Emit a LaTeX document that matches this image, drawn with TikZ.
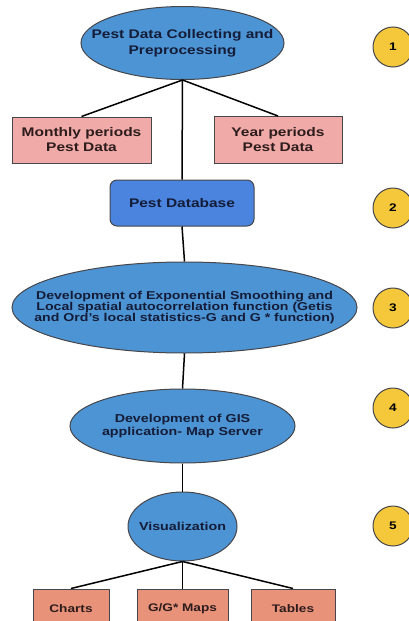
\documentclass[tikz,border=0pt]{standalone}
\usepackage{fontspec}
\setmainfont{Liberation Sans}[FakeStretch=1.24]
\usetikzlibrary{shapes.geometric}
\definecolor{ellblue}{RGB}{77,148,212}
\definecolor{dbblue}{RGB}{74,132,222}
\definecolor{boxpink}{RGB}{240,170,168}
\definecolor{boxsalmon}{RGB}{232,146,122}
\definecolor{stepgold}{RGB}{245,200,60}
\definecolor{edgegray}{RGB}{70,70,75}
\definecolor{inknavy}{RGB}{20,28,55}
\definecolor{inkbrown}{RGB}{45,28,28}
\begin{document}
\begin{tikzpicture}[x=1pt,y=-1pt,
  ell/.style={ellipse,draw=edgegray,line width=1pt,fill=ellblue,inner sep=0pt},
  elltext/.style={align=center,font=\bfseries,text=inknavy,inner sep=0pt},
  pinkbox/.style={rectangle,draw=edgegray,line width=1pt,fill=boxpink,inner sep=0pt,
    align=center,font=\fontsize{12.5}{15}\selectfont\bfseries,text=inkbrown},
  outbox/.style={rectangle,draw=edgegray,line width=1pt,fill=boxsalmon,inner sep=0pt,
    minimum height=40pt,font=\fontsize{11}{13}\selectfont\bfseries,text=inkbrown},
  stepmark/.style={circle,draw=edgegray,line width=1pt,fill=stepgold,minimum size=40pt,
    inner sep=0pt,font=\fontsize{11}{13}\selectfont\bfseries,text=black},
  link/.style={line width=1.5pt,black}]
\useasboundingbox (0,0) rectangle (409,621);
\clip (0,0) rectangle (409,621);
% stage 1
\node[ell,minimum width=203pt,minimum height=73pt] (collect) at (182.5,43) {};
\node[elltext,font=\fontsize{12.5}{16}\selectfont\bfseries] (collecttext) at (collect)
  {Pest Data Collecting and\\Preprocessing};
\node[pinkbox,minimum width=139pt,minimum height=46pt] (monthly) at (81.5,140) {Monthly periods\\Pest Data};
\node[pinkbox,minimum width=128pt,minimum height=47pt] (year) at (278,140) {Year periods\\Pest Data};
% stage 2
\node[rectangle,rounded corners=7pt,draw=edgegray,line width=1pt,fill=dbblue,
  minimum width=144pt,minimum height=46pt,font=\fontsize{12.5}{15}\selectfont\bfseries,
  text=inknavy] (db) at (182,203) {Pest Database};
% stage 3
\node[ell,minimum width=345pt,minimum height=91pt] (smooth) at (184.5,307.5) {};
\node[elltext,font=\fontsize{11.4}{11}\selectfont\bfseries] (smoothtext) at (smooth)
  {Development of Exponential Smoothing and\\Local spatial autocorrelation function (Getis\\
   and Ord's local statistics-G and G * function)};
% stage 4
\node[ell,minimum width=225pt,minimum height=74pt] (gis) at (182.5,426) {};
\node[elltext,font=\fontsize{11.5}{13}\selectfont\bfseries] (gistext) at (gis)
  {Development of GIS\\application- Map Server};
% stage 5
\node[ell,minimum width=109pt,minimum height=69pt] (viz) at (182.5,526.5) {};
\node[elltext,font=\fontsize{11.5}{13}\selectfont\bfseries] (viztext) at (viz) {Visualization};
\node[outbox,minimum width=76pt] (charts) at (71,609) {Charts};
\node[outbox,minimum width=91pt] (maps) at (182.5,609) {G/G* Maps};
\node[outbox,minimum width=84pt] (tables) at (293,609) {Tables};
% connectors
\draw[link] (collect.south) -- (monthly.north);
\draw[link] (collect.south) -- (year.north);
\draw[link] (collect.south) -- (db.north);
\draw[link] (db.south) -- (smooth.north);
\draw[link] (smooth.south) -- (gis.north);
\draw[link] (gis.south) -- (viz.north);
\draw[link] (viz.south) -- (charts.north);
\draw[link] (viz.south) -- (maps.north);
\draw[link] (viz.south) -- (tables.north);
% step numbers
\foreach \n/\y in {1/47,2/208,3/308,4/408,5/526}
  \node[stepmark] (step\n) at (393,\y) {\n};
\end{tikzpicture}
\end{document}
